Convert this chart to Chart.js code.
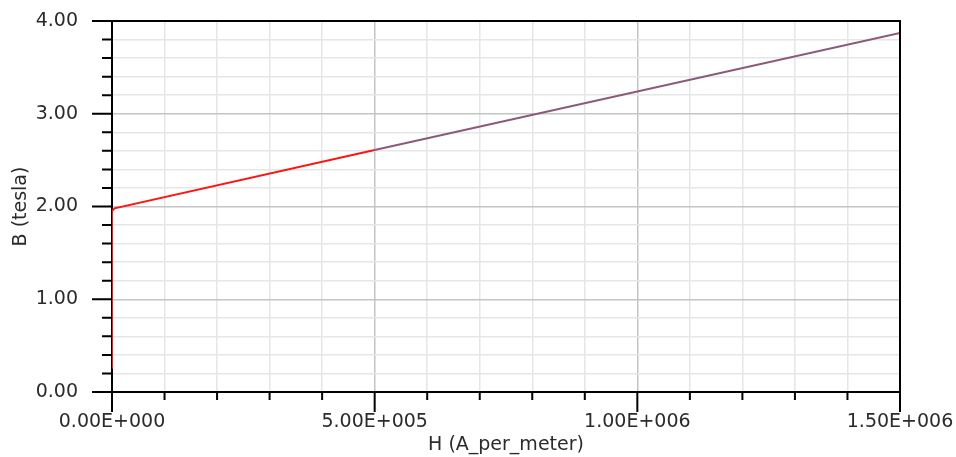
<!DOCTYPE html>
<html>
<head>
<meta charset="utf-8">
<script src="https://cdn.jsdelivr.net/npm/chart.js@4/dist/chart.umd.min.js"></script>
<style>
  html, body { margin: 0; padding: 0; background: #fff; }
  #wrap { width: 956px; height: 457px; position: relative; }
</style>
</head>
<body>
<div id="wrap"><canvas id="bhChart"></canvas></div>
<script>
// B-H curve data
const hLow = [0, 0, 5000, 500000];
const bLow = [0.25, 1.95, 1.98, 2.61];
const hHigh = [500000, 1500000];
const bHigh = [2.61, 3.87];

const xMajorStep = 500000;
const yMajorStep = 1;

function sciLabel(v) {
    const parts = v.toExponential(2).split('e');
    const exp = parseInt(parts[1], 10);
    const sign = exp < 0 ? '-' : '+';
    return parts[0] + 'E' + sign + String(Math.abs(exp)).padStart(3, '0');
}

function isMajor(v, step) {
    const r = v / step;
    return Math.abs(r - Math.round(r)) < 1e-6;
}

// draws the frame and the long/short tick marks
const frameTicks = {
    id: 'frameTicks',
    afterDraw(chart) {
        const ctx = chart.ctx;
        const area = chart.chartArea;
        const xs = chart.scales.x;
        const ys = chart.scales.y;
        ctx.save();
        ctx.strokeStyle = '#000';
        ctx.lineWidth = 2;
        ctx.beginPath();
        xs.ticks.forEach(t => {
            const px = xs.getPixelForValue(t.value);
            const len = isMajor(t.value, xMajorStep) ? 20 : 8;
            ctx.moveTo(px, area.bottom);
            ctx.lineTo(px, area.bottom + len);
        });
        ys.ticks.forEach(t => {
            const py = ys.getPixelForValue(t.value);
            const len = isMajor(t.value, yMajorStep) ? 20 : 10;
            ctx.moveTo(area.left, py);
            ctx.lineTo(area.left - len, py);
        });
        // top and right border
        ctx.moveTo(area.left, area.top);
        ctx.lineTo(area.right, area.top);
        ctx.lineTo(area.right, area.bottom);
        ctx.stroke();
        ctx.restore();
    }
};

Chart.defaults.font.family = "'DejaVu Sans', sans-serif";
Chart.defaults.color = '#2b2b2b';

new Chart(document.getElementById('bhChart'), {
    type: 'line',
    data: {
        datasets: [
            {
                data: hLow.map((h, i) => ({ x: h, y: bLow[i] })),
                borderColor: '#ff1414',
                borderWidth: 2,
                pointRadius: 0,
                tension: 0
            },
            {
                data: hHigh.map((h, i) => ({ x: h, y: bHigh[i] })),
                borderColor: '#8c5a78',
                borderWidth: 2,
                pointRadius: 0,
                tension: 0
            }
        ]
    },
    options: {
        responsive: true,
        maintainAspectRatio: false,
        animation: false,
        layout: { padding: { left: 0, right: 56, top: 21, bottom: 0 } },
        plugins: { legend: { display: false }, tooltip: { enabled: false } },
        scales: {
            x: {
                type: 'linear',
                min: 0,
                max: 1500000,
                afterFit: s => { s.height = 65; },
                border: { display: true, color: '#000', width: 2 },
                grid: {
                    drawTicks: true,
                    tickLength: 19,
                    tickColor: 'rgba(0,0,0,0)',
                    lineWidth: 1.5,
                    color: c => isMajor(c.tick.value, xMajorStep) ? '#c4c4c4' : '#e6e6e6'
                },
                ticks: {
                    stepSize: 100000,
                    autoSkip: false,
                    maxRotation: 0,
                    padding: 0,
                    font: { size: 19 },
                    callback: v => isMajor(v, xMajorStep) ? sciLabel(v) : ''
                },
                title: {
                    display: true,
                    text: 'H (A_per_meter)',
                    font: { size: 19 },
                    padding: { top: 0, bottom: 1 }
                }
            },
            y: {
                min: 0,
                max: 4,
                afterFit: s => { s.width = 112; },
                border: { display: true, color: '#000', width: 2 },
                grid: {
                    drawTicks: true,
                    tickLength: 34,
                    tickColor: 'rgba(0,0,0,0)',
                    lineWidth: 1.5,
                    color: c => isMajor(c.tick.value, yMajorStep) ? '#c4c4c4' : '#e6e6e6'
                },
                ticks: {
                    stepSize: 0.2,
                    autoSkip: false,
                    padding: 0,
                    font: { size: 19 },
                    callback: v => isMajor(v, yMajorStep) ? v.toFixed(2) : ''
                },
                title: {
                    display: true,
                    text: 'B (tesla)',
                    font: { size: 19 },
                    padding: { top: 10, bottom: 0 }
                }
            }
        }
    },
    plugins: [frameTicks]
});
</script>
</body>
</html>
